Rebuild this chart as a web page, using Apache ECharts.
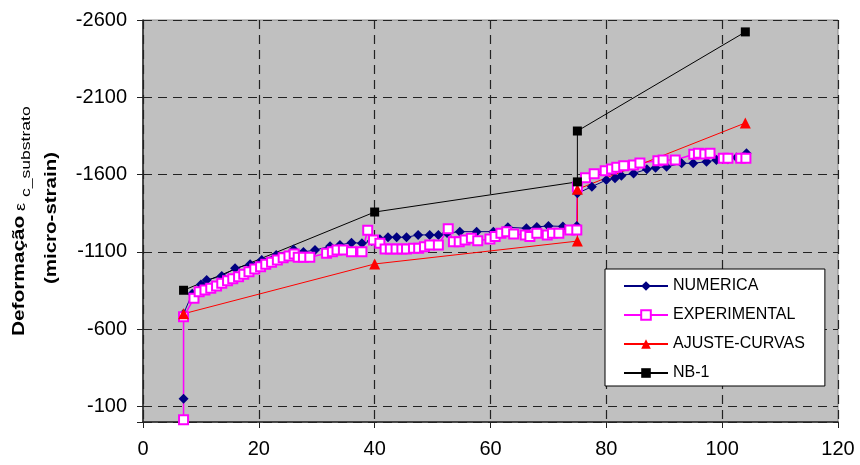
<!DOCTYPE html>
<html>
<head>
<meta charset="utf-8">
<script src="https://cdn.jsdelivr.net/npm/echarts@6/dist/echarts.min.js"></script>
<style>
html,body{margin:0;padding:0;background:#fff;}
#chart{width:860px;height:465px;}
</style>
</head>
<body>
<div id="chart"></div>
<script>
// ---- data ----
var seriesNames = ['NUMERICA', 'EXPERIMENTAL', 'AJUSTE-CURVAS', 'NB-1'];
var xTicks = [0, 20, 40, 60, 80, 100, 120];
var yTicks = [-2600, -2100, -1600, -1100, -600, -100];

var numericaX = [7, 7, 8.5, 10, 11, 13.6, 15.9, 18.5, 20.5, 23, 26, 27.7, 29.7, 32.3, 34, 36, 37.8, 39.5, 40.9, 42.3, 43.8, 45.5, 47.5, 49.5, 51, 52.5, 54.7, 57.6, 60.5, 63, 66.2, 68, 70, 72.5, 74.9, 75, 77.5, 80, 81.5, 82.6, 84.7, 87, 88.5, 90.4, 93, 95, 97.3, 99, 101, 102.5, 104.2];
var numericaY = [-150, -700, -830, -890, -918, -944, -994, -1020, -1048, -1080, -1115, -1100, -1112, -1136, -1145, -1160, -1156, -1170, -1182, -1195, -1195, -1195, -1210, -1210, -1210, -1222, -1231, -1231, -1231, -1259, -1253, -1262, -1268, -1265, -1268, -1479, -1522, -1565, -1576, -1593, -1608, -1634, -1645, -1651, -1673, -1673, -1684, -1694, -1700, -1710, -1738];

var experimentalX = [7, 7, 8.8, 9.7, 10.7, 11.7, 12.7, 13.6, 14.6, 15.5, 16.5, 17.4, 18.3, 19.3, 20.3, 21.2, 22.2, 23.2, 24.2, 25.2, 26.1, 26.8, 27.7, 28.8, 31.7, 32.7, 33.5, 34.6, 36, 37.8, 38.8, 39.8, 40.9, 41.8, 42.7, 43.7, 44.7, 45.5, 46.7, 47.6, 48.6, 49.5, 51, 52.7, 53.6, 54.6, 55.6, 56.7, 57.8, 59.9, 60.8, 61.8, 62.8, 64, 66, 66.8, 68, 69.8, 70.7, 71.8, 73.7, 74.9, 75, 76.4, 77.9, 79.8, 80.9, 81.8, 83, 84.7, 85.8, 88.9, 89.8, 91.9, 95.1, 95.9, 97, 97.9, 100.2, 101, 103.2, 104.1];
var experimentalY = [-15, -680, -800, -843, -854, -865, -880, -897, -914, -927, -940, -955, -972, -990, -1004, -1020, -1033, -1048, -1063, -1074, -1087, -1065, -1065, -1065, -1091, -1101, -1112, -1112, -1101, -1101, -1240, -1177, -1156, -1119, -1119, -1119, -1119, -1119, -1123, -1123, -1134, -1145, -1145, -1250, -1166, -1166, -1177, -1188, -1173, -1184, -1199, -1220, -1231, -1216, -1210, -1199, -1220, -1210, -1220, -1220, -1242, -1242, -1520, -1580, -1606, -1625, -1636, -1647, -1657, -1662, -1675, -1689, -1694, -1694, -1732, -1738, -1733, -1738, -1706, -1706, -1706, -1706];

var ajusteX = [7, 40, 75, 75, 104];
var ajusteY = [-700, -1022, -1170, -1505, -1934];

var nb1X = [7, 40, 75, 75, 104];
var nb1Y = [-852, -1358, -1553, -1882, -2523];

function zip(xs, ys) { return xs.map(function (x, i) { return [x, ys[i]]; }); }

var chart = echarts.init(document.getElementById('chart'), null, {renderer: 'canvas'});
var FONT = '"Liberation Sans", Arial, sans-serif';

var option = {
  animation: false,
  backgroundColor: '#ffffff',
  grid: {
    left: 143, right: 22, top: 20, bottom: 43,
    show: true, backgroundColor: '#c0c0c0', borderColor: '#8c8c8c', borderWidth: 1
  },
  xAxis: {
    type: 'value', min: 0, max: 120, interval: 20,
    axisLine: {show: true, onZero: false, lineStyle: {color: '#222', width: 1.5}},
    axisTick: {show: true, length: 6, lineStyle: {color: '#222'}},
    axisLabel: {
      margin: 17, color: '#000', fontSize: 20, fontFamily: FONT,
      formatter: function (v) { return xTicks.indexOf(v) >= 0 ? String(v) : ''; }
    },
    splitLine: {show: true, lineStyle: {color: '#222', type: [9, 6], width: 1.2}}
  },
  yAxis: {
    type: 'value', min: -2600, max: 0, interval: 500, inverse: true,
    axisLine: {show: true, onZero: false, lineStyle: {color: '#222', width: 1.5}},
    axisTick: {show: true, length: 6, lineStyle: {color: '#222'}},
    axisLabel: {
      margin: 16, color: '#000', fontSize: 20, fontFamily: FONT,
      formatter: function (v) { return yTicks.indexOf(v) >= 0 ? String(v) : ''; }
    },
    splitLine: {show: true, lineStyle: {color: '#222', type: [9, 6], width: 1.2}}
  },
  legend: {
    orient: 'vertical', left: 605, top: 269,
    padding: [9, 20, 5, 18],
    itemWidth: 44, itemHeight: 12, itemGap: 13,
    backgroundColor: '#ffffff', borderColor: '#000', borderWidth: 1,
    textStyle: {color: '#000', fontSize: 16, fontFamily: FONT, lineHeight: 16},
    data: seriesNames
  },
  series: [
    {
      name: seriesNames[0], type: 'line', data: zip(numericaX, numericaY),
      symbol: 'diamond', symbolSize: 10, showAllSymbol: true,
      lineStyle: {color: '#000080', width: 1},
      itemStyle: {color: '#000080'}
    },
    {
      name: seriesNames[1], type: 'line', data: zip(experimentalX, experimentalY),
      symbol: 'rect', symbolSize: 9, showAllSymbol: true,
      lineStyle: {color: '#ff00ff', width: 1.5},
      itemStyle: {color: '#ffffff', borderColor: '#ff00ff', borderWidth: 2}
    },
    {
      name: seriesNames[2], type: 'line', data: zip(ajusteX, ajusteY),
      symbol: 'triangle', symbolSize: 11, showAllSymbol: true,
      lineStyle: {color: '#ff0000', width: 1},
      itemStyle: {color: '#ff0000'}
    },
    {
      name: seriesNames[3], type: 'line', data: zip(nb1X, nb1Y),
      symbol: 'rect', symbolSize: 9, showAllSymbol: true,
      lineStyle: {color: '#000000', width: 1},
      itemStyle: {color: '#000000'}
    }
  ],
  graphic: [
    {
      type: 'text', x: 20, y: 336, rotation: Math.PI / 2, scaleX: 1.3,
      style: {
        text: 'Deformação', align: 'left', verticalAlign: 'middle',
        fontSize: 16, fontWeight: 'bold', fontFamily: FONT, fill: '#000'
      }
    },
    {
      type: 'text', x: 21, y: 211, rotation: Math.PI / 2, scaleX: 1.2,
      style: {
        text: 'ε', align: 'left', verticalAlign: 'middle',
        fontSize: 15, fontFamily: FONT, fill: '#000'
      }
    },
    {
      type: 'text', x: 26, y: 197, rotation: Math.PI / 2, scaleX: 1.35,
      style: {
        text: 'c_substrato', align: 'left', verticalAlign: 'middle',
        fontSize: 13, fontFamily: FONT, fill: '#000'
      }
    },
    {
      type: 'text', x: 52, y: 218, rotation: Math.PI / 2, scaleX: 1.28,
      style: {
        text: '(micro-strain)', align: 'center', verticalAlign: 'middle',
        fontSize: 16, fontWeight: 'bold', fontFamily: FONT, fill: '#000'
      }
    }
  ]
};
chart.setOption(option);
</script>
</body>
</html>
